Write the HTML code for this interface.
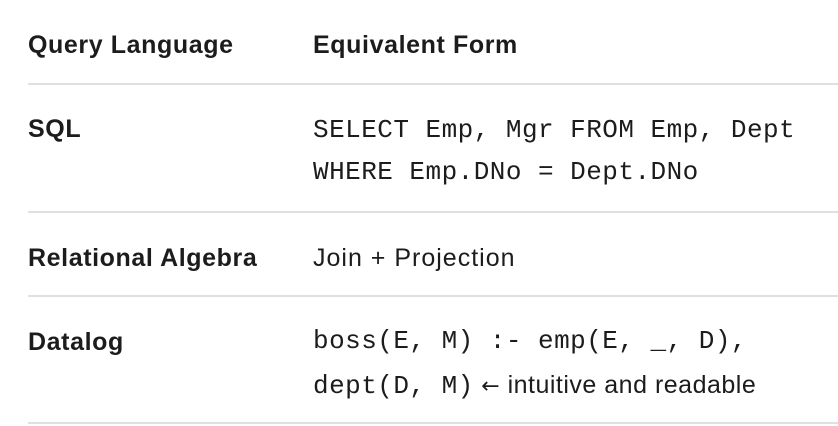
<!DOCTYPE html>
<html><head><meta charset="utf-8"><style>
body{margin:0;width:838px;height:426px;background:#fff;position:relative;overflow:hidden;color:#1c1c1e;font-family:"Liberation Sans",sans-serif}
.t{position:absolute;white-space:nowrap;font-size:25px;line-height:24px}
.b{font-weight:bold;letter-spacing:0.6px}
.s{letter-spacing:1px}
.m{font-family:"Liberation Mono",monospace;font-size:26px;letter-spacing:0.47px}
.a{font-family:"DejaVu Sans",sans-serif;font-size:22px}
.r{position:absolute;left:28px;right:0;height:2px;background:#e0e0e0}
</style></head><body>
<div class="t b" style="left:28px;top:33px">Query Language</div>
<div class="t b" style="left:313px;top:33px">Equivalent Form</div>
<div class="r" style="top:83px"></div>
<div class="t b" style="left:28px;top:117px">SQL</div>
<div class="t m" style="left:313px;top:118px">SELECT Emp, Mgr FROM Emp, Dept</div>
<div class="t m" style="left:313px;top:160px">WHERE Emp.DNo = Dept.DNo</div>
<div class="r" style="top:211px"></div>
<div class="t b" style="left:28px;top:246px">Relational Algebra</div>
<div class="t s" style="left:313px;top:246px">Join + Projection</div>
<div class="r" style="top:295px"></div>
<div class="t b" style="left:28px;top:330px">Datalog</div>
<div class="t m" style="left:313px;top:329px">boss(E, M) :- emp(E, _, D),</div>
<div class="t" style="left:313px;top:373px"><span class="m">dept(D, M)</span><span class="s" style="letter-spacing:0.5px"> <span class="a">←</span> intuitive and readable</span></div>
<div class="r" style="top:422px"></div>
</body></html>
